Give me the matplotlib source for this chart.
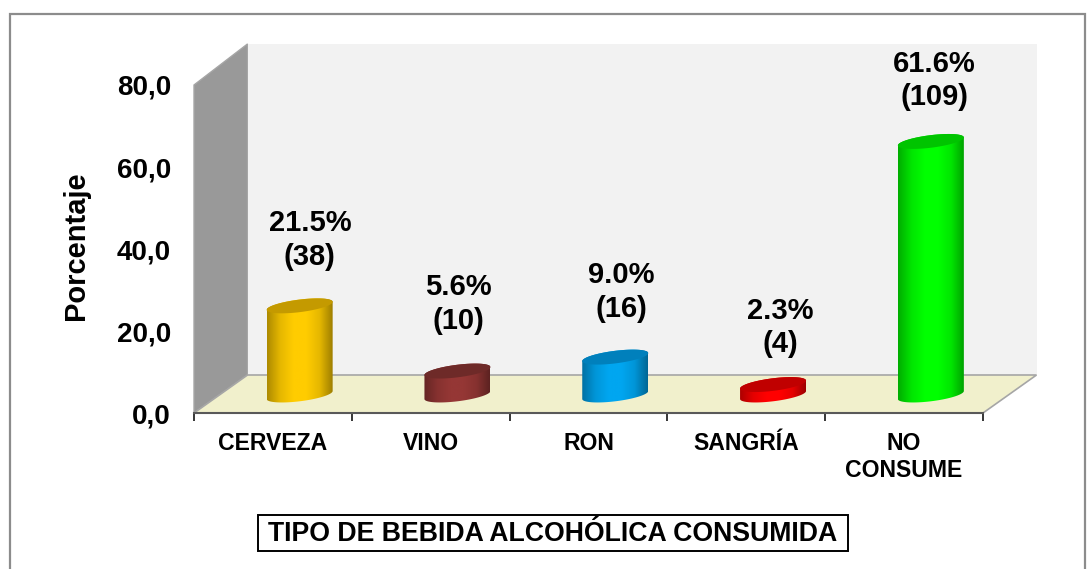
import numpy as np
import matplotlib
matplotlib.use("Agg")
import matplotlib.pyplot as plt
from matplotlib.patches import Polygon, Rectangle
from matplotlib.colors import LinearSegmentedColormap, to_rgb

plt.rcParams['font.family'] = ['Liberation Sans', 'DejaVu Sans']

categories = ["CERVEZA", "VINO", "RON", "SANGRÍA", "NO\nCONSUME"]
percent = [21.5, 5.6, 9.0, 2.3, 61.6]
counts = [38, 10, 16, 4, 109]
yticks = [0, 20, 40, 60, 80]
ytick_labels = ["0,0", "20,0", "40,0", "60,0", "80,0"]
body_colors = ["#FFCC00", "#953735", "#00A6F0", "#FF0000", "#00FF00"]
cap_colors = ["#C49A00", "#6E2A28", "#0080BC", "#C00000", "#00C400"]
label_offsets = [(37, 85), (28, 86), (33, 84), (34, 76), (30, 80)]

W, H = 1091, 569
fig = plt.figure(figsize=(W / 100, H / 100), dpi=100, facecolor="white")

# page frame
fig.add_artist(Rectangle((9.5 / W, -0.02), (1085 - 9.5) / W, (H - 13.5) / H + 0.02,
                         transform=fig.transFigure, fill=False, ec="#8C8C8C", lw=1.6))

L, R, Y0, Y80 = 194, 983, 413, 85
ax = fig.add_axes([L / W, 1 - Y0 / H, (R - L) / W, (Y0 - Y80) / H])
n = len(categories)
xlim, ylim = (0, n), (0, 80)

ppx = n / (R - L)              # data units per pixel in x
ppy = 80 / (Y0 - Y80)          # data units per pixel in y
dx, dy = 53.5 * ppx, 38 * ppy  # depth of the 3-D box

# walls and floor
ax.add_patch(Polygon([(0, 0), (0, 80), (dx, 80 + dy * 1.08), (dx, dy)], closed=True,
                     fc="#999999", ec="#A6A6A6", lw=1, clip_on=False, zorder=1))
ax.add_patch(Polygon([(dx, dy), (dx, 80 + dy * 1.08), (n + dx, 80 + dy * 1.08), (n + dx, dy)], closed=True,
                     fc="#F2F2F2", ec="none", clip_on=False, zorder=1))
ax.add_patch(Polygon([(0, 0), (n, 0), (n + dx, dy), (dx, dy)], closed=True,
                     fc="#F1F0CC", ec="#A6A6A6", lw=1.2, clip_on=False, zorder=2))

# cylinders
a = 33 * ppx
b = 6.3 * ppy
s = 4.0 * ppy
def ring(cx, cy, t):
    return np.column_stack([cx + a * np.cos(t), cy + s * np.cos(t) + b * np.sin(t)])

for i, (v, c, cc) in enumerate(zip(percent, body_colors, cap_colors)):
    cx = i + 0.5 + dx / 2
    base = dy / 2 - 1.0 * ppy
    top = dy / 2 + v
    t_low = np.linspace(np.pi, 2 * np.pi, 60)
    t_up = np.linspace(0, np.pi, 60)
    body = np.vstack([ring(cx, base, t_low), ring(cx, top, t_up)])
    rgb = np.array(to_rgb(c))
    cmap = LinearSegmentedColormap.from_list(
        "g", [rgb * 0.68, rgb * 0.9, rgb, rgb, rgb * 0.9, rgb * 0.62])
    poly = Polygon(body, closed=True, fc="none", ec="none", transform=ax.transData)
    ax.add_patch(poly)
    im = ax.imshow(np.linspace(0, 1, 128).reshape(1, -1), cmap=cmap, aspect="auto",
                   extent=(cx - a, cx + a, base - b - s, top + b + s), zorder=3)
    im.set_clip_path(poly)
    ax.add_patch(Polygon(ring(cx, top, np.linspace(0, 2 * np.pi, 120)), closed=True,
                         fc=cc, ec="none", zorder=4))
    ox, oy = label_offsets[i]
    ax.annotate(f"{v:.1f}%\n({counts[i]})", xy=(i + 0.5, v), xytext=(ox * 0.72, oy * 0.72),
                textcoords="offset points", ha="center", va="center", fontsize=21,
                fontweight="bold", color="black", linespacing=1.25, zorder=6,
                annotation_clip=False)

ax.set_xlim(xlim)
ax.set_ylim(ylim)
ax.patch.set_visible(False)
for sp in ("left", "right", "top"):
    ax.spines[sp].set_visible(False)
ax.spines["bottom"].set_color("#595959")
ax.spines["bottom"].set_linewidth(1.5)
ax.spines["bottom"].set_zorder(5)

ax.set_yticks(yticks, ytick_labels, fontsize=20, fontweight="bold")
ax.tick_params(axis="y", length=0, pad=16.5)
ax.set_xticks(np.arange(n + 1), [""] * (n + 1))
ax.tick_params(axis="x", which="major", length=6, width=1.3, color="#262626")
ax.set_xticks(np.arange(n) + 0.5, categories, minor=True, fontsize=16.6, fontweight="bold")
ax.tick_params(axis="x", which="minor", length=0, pad=14)
ax.set_ylabel("Porcentaje", fontsize=21, fontweight="bold", labelpad=0)
ax.yaxis.set_label_coords((90 - L) / (R - L), (Y0 - 246) / (Y0 - Y80))

fig.text(553 / W, 1 - 534 / H, "TIPO DE BEBIDA ALCOHÓLICA CONSUMIDA", ha="center", va="center",
         fontsize=19.2, fontweight="bold")
fig.add_artist(Rectangle((258 / W, 1 - 551 / H), 590 / W, 36 / H, transform=fig.transFigure,
                         fill=False, ec="black", lw=1.4))

fig.savefig("out.png", dpi=100)
